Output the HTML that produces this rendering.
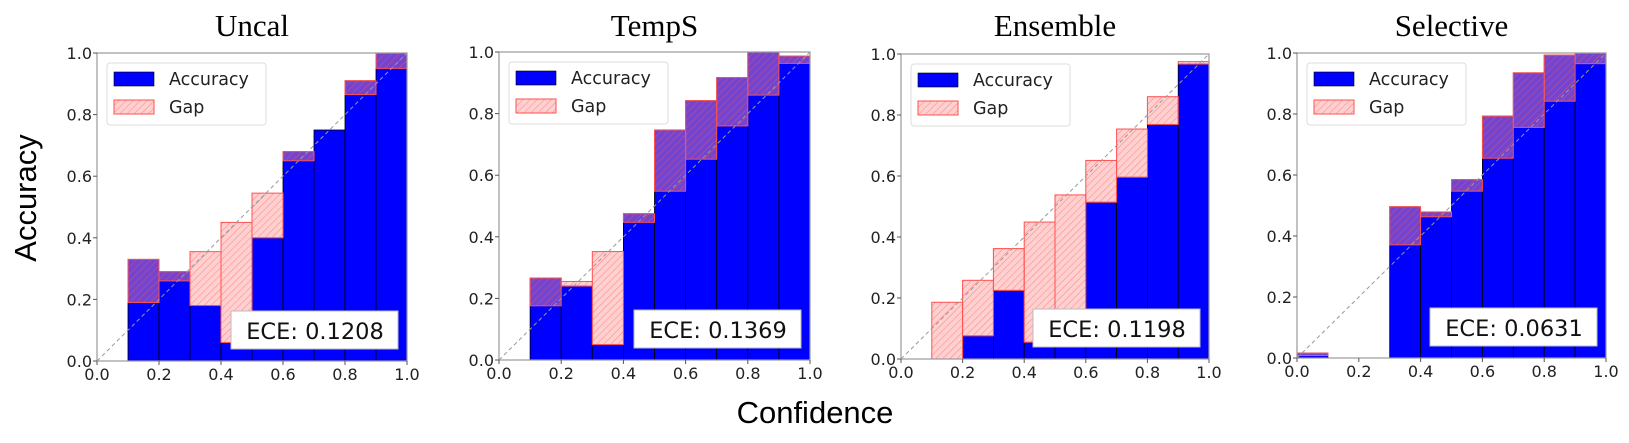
<!DOCTYPE html>
<html><head><meta charset="utf-8">
<style>
html,body{margin:0;padding:0;background:#fff;}
svg{display:block;}
</style></head>
<body>
<svg id="fig" width="1629" height="443" viewBox="0 0 1629 443" xmlns="http://www.w3.org/2000/svg">
<defs>
<pattern id="hatch" patternUnits="userSpaceOnUse" width="5" height="5" patternTransform="rotate(45)">
<line x1="0" y1="0" x2="0" y2="5" stroke="#ff5555" stroke-width="1.1"/>
</pattern>
</defs>
<text x="28" y="198" transform="rotate(-90 28 198)" font-family="Liberation Sans, sans-serif" font-size="31" text-anchor="middle" dominant-baseline="middle">Accuracy</text>
<text x="815" y="423" font-family="Liberation Sans, sans-serif" font-size="31" text-anchor="middle">Confidence</text>
</svg>
<script>
const panelTitles = ["Uncal", "TempS", "Ensemble", "Selective"];
const eceLabels = ["ECE: 0.1208", "ECE: 0.1369", "ECE: 0.1198", "ECE: 0.0631"];
const binStarts = [0.0, 0.1, 0.2, 0.3, 0.4, 0.5, 0.6, 0.7, 0.8, 0.9];
const accUncal = [0, 0.33, 0.29, 0.18, 0.06, 0.40, 0.68, 0.75, 0.91, 1.0];
const confUncal = [0, 0.19, 0.26, 0.355, 0.45, 0.545, 0.65, 0.75, 0.865, 0.95];
const accTempS = [0, 0.266, 0.24, 0.05, 0.475, 0.747, 0.842, 0.917, 1.0, 0.987];
const confTempS = [0, 0.176, 0.255, 0.352, 0.447, 0.548, 0.652, 0.76, 0.86, 0.963];
const accEnsemble = [0, 0, 0.076, 0.225, 0.055, 0.05, 0.514, 0.596, 0.769, 0.967];
const confEnsemble = [0, 0.186, 0.258, 0.362, 0.449, 0.538, 0.651, 0.754, 0.86, 0.975];
const accSelective = [0.016, 0, 0, 0.496, 0.479, 0.585, 0.793, 0.935, 0.993, 1.0];
const confSelective = [0.008, 0, 0, 0.371, 0.463, 0.547, 0.655, 0.756, 0.842, 0.965];
const tickLabels = ["0.0", "0.2", "0.4", "0.6", "0.8", "1.0"];
const tickValues = [0, 0.2, 0.4, 0.6, 0.8, 1.0];

const accAll = [accUncal, accTempS, accEnsemble, accSelective];
const confAll = [confUncal, confTempS, confEnsemble, confSelective];
const boxes = [[97,53,407,361],[499,52,810,360],[901,54,1209,359],[1297,53,1606,358]];
const NS = "http://www.w3.org/2000/svg";
const svg = document.getElementById('fig');
function mk(tag, attrs, parent){const e=document.createElementNS(NS,tag);for(const k in attrs)e.setAttribute(k,attrs[k]);(parent||svg).appendChild(e);return e;}
const FS = "DejaVu Sans, Liberation Sans, sans-serif";

for(let p=0;p<4;p++){
  const [x0,y0,x1,y1]=boxes[p];
  const sx=v=>x0+v*(x1-x0);
  const sy=v=>y1-v*(y1-y0);
  const g=mk('g',{});
  
  
  const t=mk('text',{x:(x0+x1)/2,y:36,'font-family':'Liberation Serif, serif','font-size':31,'text-anchor':'middle'},g);
  t.textContent=panelTitles[p];
  
  
  const acc=accAll[p], conf=confAll[p];
  for(let i=0;i<binStarts.length;i++){
    if(acc[i]>0){
      const r=mk('rect',{x:sx(binStarts[i]),y:sy(acc[i]),width:sx(binStarts[i]+0.1)-sx(binStarts[i]),height:sy(0)-sy(acc[i]),fill:'#0000ff',stroke:'#000','stroke-width':0.8},g);
      
      
    }
  }
  for(let i=0;i<binStarts.length;i++){
    if(acc[i]===0 && conf[i]===0) continue;
    const lo=Math.min(acc[i],conf[i]), hi=Math.max(acc[i],conf[i]);
    if(hi-lo<=0) continue;
    const gx=sx(binStarts[i]), gw=sx(binStarts[i]+0.1)-gx;
    const r1=mk('rect',{x:gx,y:sy(hi),width:gw,height:sy(lo)-sy(hi),fill:'rgba(255,150,150,0.45)',stroke:'#ff5050','stroke-width':1},g);
    
    
    const r2=mk('rect',{x:gx,y:sy(hi),width:gw,height:sy(lo)-sy(hi),fill:'url(#hatch)',opacity:0.6},g);
    
    
  }
  const d=mk('line',{x1:sx(0),y1:sy(0),x2:sx(1),y2:sy(1),stroke:'#999','stroke-width':1,'stroke-dasharray':'4,3'},g);
  
  
  const fr=mk('rect',{x:x0,y:y0,width:x1-x0,height:y1-y0,fill:'none',stroke:'#999','stroke-width':1.2},g);
  
  
  for(let k=0;k<tickValues.length;k++){
    const yt=mk('text',{x:x0-5,y:sy(tickValues[k])+6,'font-family':FS,'font-size':16,'text-anchor':'end',fill:'#222'},g);
    yt.textContent=tickLabels[k];
    
    
    const xt=mk('text',{x:sx(tickValues[k]),y:y1+19,'font-family':FS,'font-size':16,'text-anchor':'middle',fill:'#222'},g);
    xt.textContent=tickLabels[k];
    
    
    mk('line',{x1:x0-4,y1:sy(tickValues[k]),x2:x0,y2:sy(tickValues[k]),stroke:'#555'},g);
    mk('line',{x1:sx(tickValues[k]),y1:y1,x2:sx(tickValues[k]),y2:y1+4,stroke:'#555'},g);
  }
  const lg=mk('g',{},g);
  
  
  mk('rect',{x:x0+10,y:y0+10,width:159,height:62,rx:3,fill:'rgba(255,255,255,0.9)',stroke:'#ddd'},lg);
  mk('rect',{x:x0+17,y:y0+19,width:40,height:14,fill:'#0000ff',stroke:'#000','stroke-width':0.6},lg);
  mk('rect',{x:x0+17,y:y0+47,width:40,height:14,fill:'rgba(255,150,150,0.45)',stroke:'#ff5050'},lg);
  mk('rect',{x:x0+17,y:y0+47,width:40,height:14,fill:'url(#hatch)',opacity:0.6},lg);
  const l1=mk('text',{x:x0+72,y:y0+32,'font-family':FS,'font-size':17.5,fill:'#222'},lg);
  l1.textContent='Accuracy';
  
  
  const l2=mk('text',{x:x0+72,y:y0+60,'font-family':FS,'font-size':17.5,fill:'#222'},lg);
  l2.textContent='Gap';
  
  
  const eb=mk('g',{},g);
  
  
  mk('rect',{x:x1-176,y:y1-50,width:167,height:38,fill:'#fff',stroke:'#bbb'},eb);
  const et=mk('text',{x:x1-92,y:y1-22,'font-family':FS,'font-size':22.5,'text-anchor':'middle',fill:'#111'},eb);
  et.textContent=eceLabels[p];
  
  
}
</script>
</body></html>
